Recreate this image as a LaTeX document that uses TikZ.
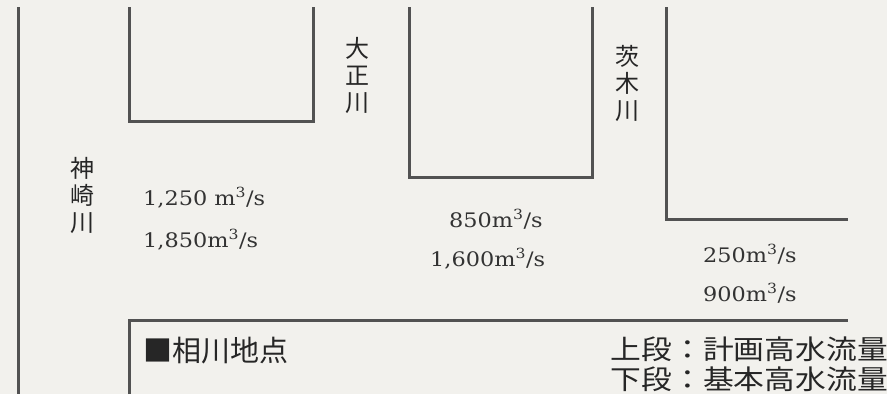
\documentclass[tikz,border=0pt]{standalone}
\usepackage{fontspec}
\setmainfont{DejaVu Serif}
\newfontfamily\numfont[FakeStretch=1.12]{DejaVu Serif}
\newfontfamily\jpfont{Noto Sans CJK JP}
\newfontfamily\jpwide[FakeStretch=1.14]{Noto Sans CJK JP}
\begin{document}
\begin{tikzpicture}[x=1pt,y=-1pt]
\tikzset{
  wall/.style={draw=black!68, line width=3pt},
  river/.style={font=\jpfont\fontsize{24}{27}\selectfont, align=center, text=black!85, inner sep=0pt},
  flow/.style={font=\numfont\fontsize{20}{22}\selectfont, anchor=base west, inner sep=0pt, text=black!80},
  jplab/.style={font=\jpfont\fontsize{29}{29}\selectfont, inner sep=0pt, text=black!85},
  legend/.style={font=\jpwide\fontsize{27}{27}\selectfont, inner sep=0pt, text=black!85, anchor=east}
}
\fill[fill={rgb,255:red,242;green,241;blue,237}] (0,0) rectangle (887,394);
\useasboundingbox (0,0) rectangle (887,394);
% walls
\draw[wall] (18,7) -- (18,394);
\draw[wall] (129,7) -- (129,121) -- (313,121) -- (313,7);
\draw[wall] (409,7) -- (409,177) -- (592,177) -- (592,7);
\draw[wall] (666,7) -- (666,219) -- (848,219);
\draw[wall] (129,394) -- (129,320) -- (848,320);
% river names
\node[river] (kanzaki) at (82,195) {神\\崎\\川};
\node[river] (taisho) at (357,75) {大\\正\\川};
\node[river] (ibaraki) at (627,83) {茨\\木\\川};
% flows
\node[flow] (k1) at (143,205) {1,250 m\textsuperscript{3}/s};
\node[flow] (k2) at (143,247) {1,850m\textsuperscript{3}/s};
\node[flow] (t1) at (449,227) {850m\textsuperscript{3}/s};
\node[flow] (t2) at (430,266) {1,600m\textsuperscript{3}/s};
\node[flow] (i1) at (703,262) {250m\textsuperscript{3}/s};
\node[flow] (i2) at (703,301) {900m\textsuperscript{3}/s};
% point label
\node[jplab, anchor=west] (aikawa) at (143,351) {■相川地点};
\node[legend] (leg1) at (888,349) {上段：計画高水流量};
\node[legend] (leg2) at (888,379) {下段：基本高水流量};
\end{tikzpicture}
\end{document}
